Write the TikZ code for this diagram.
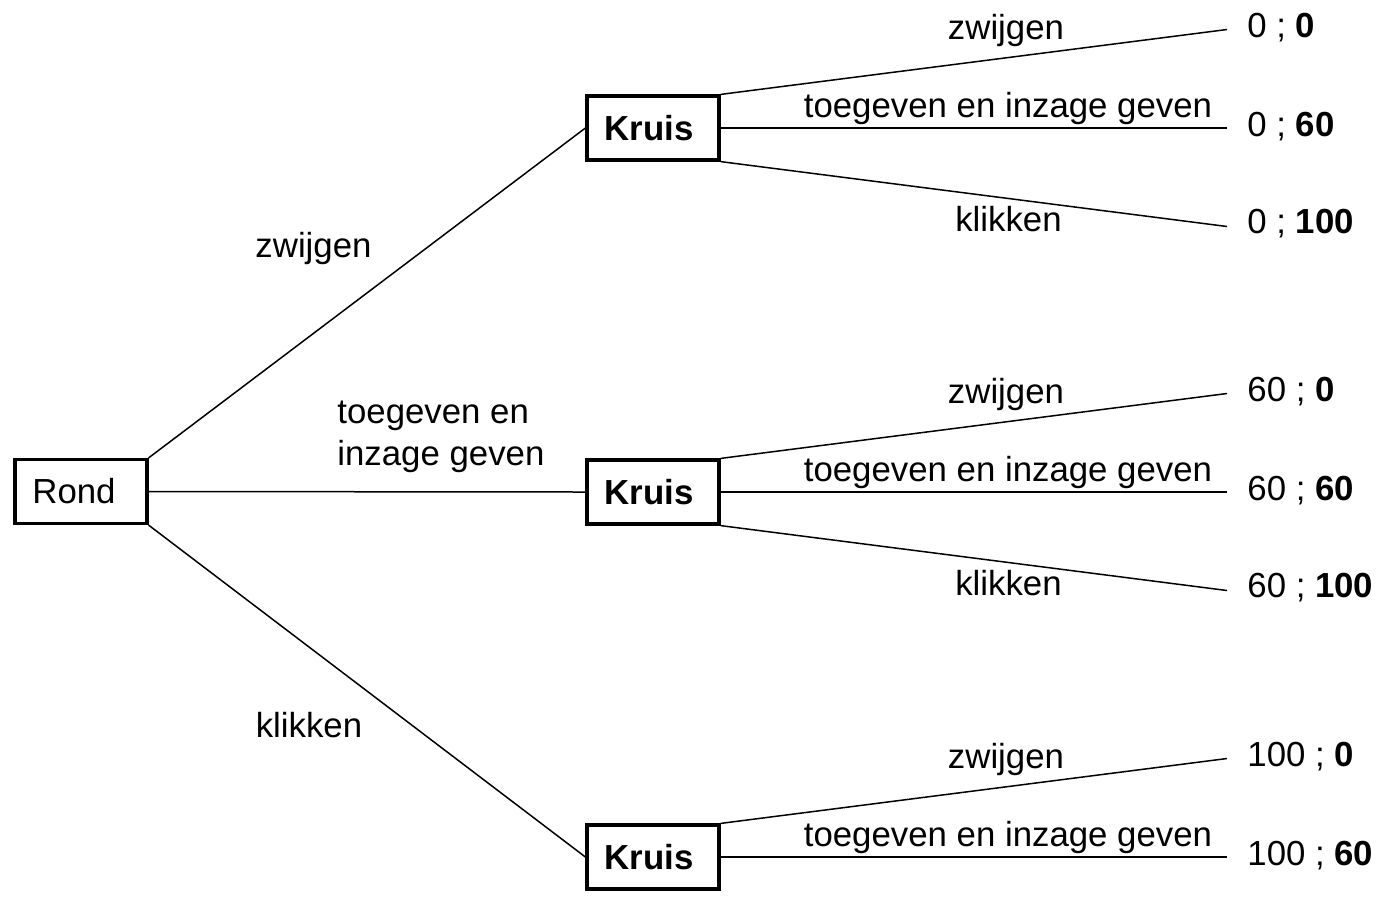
\documentclass[tikz,border=0pt]{standalone}
\usepackage{fontspec}
\setmainfont{Liberation Sans}
\usetikzlibrary{positioning,calc}
\tikzset{
  txt/.style={font=\fontsize{17.4}{21}\selectfont},
  playerbox/.style={txt, draw, line width=1.6pt, minimum width=66pt, minimum height=32pt, inner sep=0pt},
  branch/.style={line width=0.75pt},
  lbl/.style={txt, inner sep=0pt, anchor=base},
}
\begin{document}
\begin{tikzpicture}[x=0.5pt, y=-0.5pt]
  \useasboundingbox (0,0) rectangle (1381,907);
  % first mover
  \node[playerbox] (rond) at (81,491.5) {Rond\kern7pt};
  \foreach \k/\y in {1/128,2/492,3/857}{
    \node[playerbox, font=\fontsize{17.4}{21}\selectfont\bfseries] (kruis\k) at (653,\y) {Kruis\kern4pt};
  }
  \draw[branch] (rond.north east) -- (kruis1.west);
  \draw[branch] (rond.east) -- (kruis2.west);
  \draw[branch] (rond.south east) -- (kruis3.west);
  \node[lbl] (lzwijgen) at (313.5,257) {zwijgen};
  \node[lbl, align=left, anchor=west] (ltoegeven) at (337,437) {toegeven en\\inzage geven};
  \node[lbl] (lklikken) at (309,737) {klikken};
  % second mover
  \foreach \k/\y/\pay in {1/128/0,2/492/60,3/857/100}{
    \coordinate (end\k z) at (1227,\y-98.5);
    \coordinate (end\k t) at (1227,\y);
    \draw[branch] (kruis\k.north east) -- (end\k z);
    \draw[branch] (kruis\k.east) -- (end\k t);
    \node[lbl] (zw\k) at (1006,\y-89) {zwijgen};
    \node[lbl] (tg\k) at (1008,\y-11) {toegeven en inzage geven};
    \node[lbl, anchor=base west] (pay\k z) at (1247,\y-91) {{\pay} ; \textbf{0}};
    \node[lbl, anchor=base west] (pay\k t) at (1247,\y+8) {{\pay} ; \textbf{60}};
  }
  \foreach \k/\y/\pay in {1/128/0,2/492/60}{
    \coordinate (end\k k) at (1227,\y+98.5);
    \draw[branch] (kruis\k.south east) -- (end\k k);
    \node[lbl] (kl\k) at (1008.5,\y+103) {klikken};
    \node[lbl, anchor=base west] (pay\k k) at (1247,\y+105) {{\pay} ; \textbf{100}};
  }
\end{tikzpicture}
\end{document}
